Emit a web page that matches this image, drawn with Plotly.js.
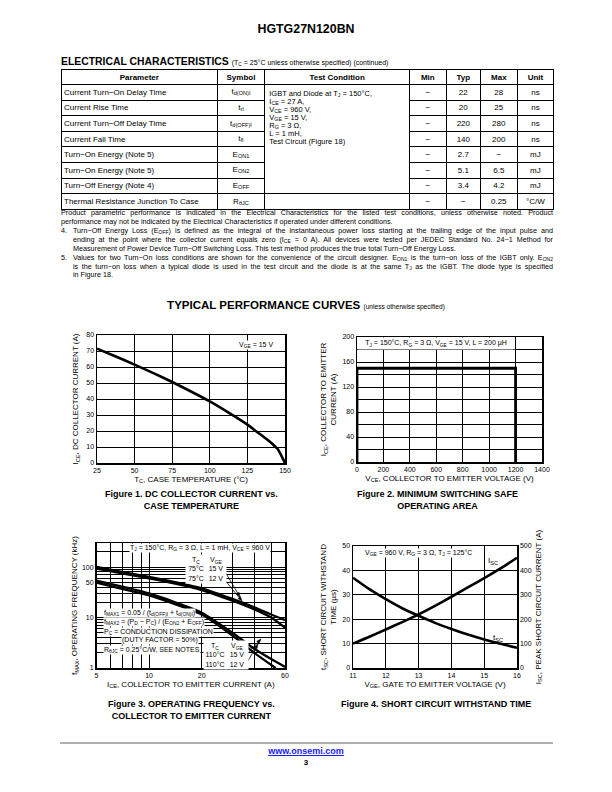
<!DOCTYPE html>
<html>
<head>
<meta charset="utf-8">
<script src="https://cdn.plot.ly/plotly-3.0.1.min.js"></script>
<style>
html,body{margin:0;padding:0;background:#fff;}
body{width:612px;height:792px;overflow:hidden;position:relative;font-family:"Liberation Sans",Arial,Helvetica,sans-serif;color:#000;}
#plot{position:absolute;left:0;top:0;width:612px;height:792px;z-index:0;}
.ov{position:absolute;z-index:2;white-space:nowrap;}
#hdr{left:0;width:612px;top:22px;line-height:14px;text-align:center;font-weight:bold;font-size:12.4px;}
#ect{left:61px;top:56px;line-height:12px;font-size:10.4px;font-weight:bold;}
#ect span{font-weight:normal;font-size:7px;}
sub{font-size:70%;vertical-align:-0.2em;line-height:1;}
#tbl{position:absolute;z-index:2;left:61px;top:69px;border-collapse:collapse;table-layout:fixed;font-size:8px;}
#tbl td,#tbl th{border:1px solid #000;padding:0 2px;line-height:9px;white-space:nowrap;overflow:hidden;}
#tbl th{font-weight:bold;text-align:center;}
#tbl tr{height:15.6px;}
#tbl tr.h{height:15px;}
#tbl td.c{text-align:center;}
#tbl td.p{text-align:left;padding-left:2px;}
#tbl td.cond{vertical-align:top;padding:5.4px 4px 0 4px;font-size:7.5px;overflow:visible;}
#tbl td.cond div{height:8px;line-height:8px;overflow:visible;white-space:nowrap;}
#tbl td.cond sub{line-height:0;vertical-align:-0.12em;}
.nl{position:absolute;z-index:2;font-size:7.2px;line-height:8.9px;white-space:nowrap;}
.j{text-align:justify;text-align-last:justify;}
#heading{left:0;width:612px;top:298px;line-height:14px;text-align:center;font-size:11.5px;font-weight:bold;}
#heading span{font-weight:normal;font-size:6.6px;}
#fline{position:absolute;z-index:2;left:60px;width:493px;top:742px;height:2px;background:#b0b0b0;}
#link{left:0;width:612px;top:746px;line-height:11px;text-align:center;font-size:9px;font-weight:bold;}
#link a{color:#1a1aff;text-decoration:underline;}
#pg{left:0;width:612px;top:757px;line-height:11px;text-align:center;font-size:8px;font-weight:bold;}
</style>
</head>
<body>
<div id="plot"></div>
<div class="ov" id="hdr">HGTG27N120BN</div>
<div class="ov" id="ect">ELECTRICAL CHARACTERISTICS <span>(T<sub>C</sub> = 25°C unless otherwise specified) (continued)</span></div>
<table id="tbl"></table>
<div class="nl j" style="left:61px;top:209px;width:492px;">Product parametric performance is indicated in the Electrical Characteristics for the listed test conditions, unless otherwise noted. Product</div>
<div class="nl" style="left:61px;top:218px;">performance may not be indicated by the Electrical Characteristics if operated under different conditions.</div>
<div class="nl" style="left:61px;top:227px;">4.</div>
<div class="nl j" style="left:73px;top:227px;width:480px;">Turn−Off Energy Loss (E<sub>OFF</sub>) is defined as the integral of the instantaneous power loss starting at the trailing edge of the input pulse and</div>
<div class="nl j" style="left:73px;top:236px;width:480px;">ending at the point where the collector current equals zero (I<sub>CE</sub> = 0 A). All devices were tested per JEDEC Standard No. 24−1 Method for</div>
<div class="nl" style="left:73px;top:245px;">Measurement of Power Device Turn−Off Switching Loss. This test method produces the true total Turn−Off Energy Loss.</div>
<div class="nl" style="left:61px;top:254px;">5.</div>
<div class="nl j" style="left:73px;top:254px;width:480px;">Values for two Turn−On loss conditions are shown for the convenience of the circuit designer. E<sub>ON1</sub> is the turn−on loss of the IGBT only. E<sub>ON2</sub></div>
<div class="nl j" style="left:73px;top:262.5px;width:480px;">is the turn−on loss when a typical diode is used in the test circuit and the diode is at the same T<sub>J</sub> as the IGBT. The diode type is specified</div>
<div class="nl" style="left:73px;top:271px;">in Figure 18.</div>
<div class="ov" id="heading">TYPICAL PERFORMANCE CURVES <span>(unless otherwise specified)</span></div>
<div id="fline"></div>
<div class="ov" id="link"><a href="http://www.onsemi.com">www.onsemi.com</a></div>
<div class="ov" id="pg">3</div>
<script>
// ---------------- Table data ----------------
const tHeaders = ["Parameter","Symbol","Test Condition","Min","Typ","Max","Unit"];
const tParams = ["Current Turn−On Delay Time","Current Rise Time","Current Turn−Off Delay Time","Current Fall Time","Turn−On Energy (Note 5)","Turn−On Energy (Note 5)","Turn−Off Energy (Note 4)","Thermal Resistance Junction To Case"];
const tSymbols = ["t<sub>d(ON)I</sub>","t<sub>rI</sub>","t<sub>d(OFF)I</sub>","t<sub>fI</sub>","E<sub>ON1</sub>","E<sub>ON2</sub>","E<sub>OFF</sub>","R<sub>θJC</sub>"];
const tCondition = ["IGBT and Diode at T<sub>J</sub> = 150°C,","I<sub>CE</sub> = 27 A,","V<sub>CE</sub> = 960 V,","V<sub>GE</sub> = 15 V,","R<sub>G</sub> = 3 Ω,","L = 1 mH,","Test Circuit (Figure 18)"];
const tMin = ["−","−","−","−","−","−","−","−"];
const tTyp = ["22","20","220","140","2.7","5.1","3.4","−"];
const tMax = ["28","25","280","200","−","6.5","4.2","0.25"];
const tUnit = ["ns","ns","ns","ns","mJ","mJ","mJ","°C/W"];

// ---------------- Figure 1 ----------------
const f1Temp = [25, 37.5, 50, 62.5, 75, 87.5, 100, 112.5, 125, 131, 137.5, 141.5, 145, 147.5, 150];
const f1Ice  = [71.5, 66.6, 61.5, 56.2, 50.6, 44.7, 38.5, 31.5, 24, 19.7, 15.1, 12, 8.9, 4.8, 0];
const f1XTicks = [25, 50, 75, 100, 125, 150];
const f1YTicks = [0, 10, 20, 30, 40, 50, 60, 70, 80];

// ---------------- Figure 2 ----------------
const f2Vce = [0, 0, 1200, 1200];
const f2Ice = [0, 150, 150, 0];
const f2XTicks = [0, 200, 400, 600, 800, 1000, 1200, 1400];
const f2YTicks = [0, 40, 80, 120, 160, 200];
const f2YMinor = 20;

// ---------------- Figure 3 ----------------
const f3Ice   = [5, 7, 10, 15, 20, 30, 40, 50, 60];
const f3IceB  = [5, 7, 10, 15, 20, 30, 40, 50, 53];
const f3_75C_15V  = [101, 80, 64, 48, 38, 23.5, 16, 11.5, 8.9];
const f3_75C_12V  = [93, 75, 60, 45, 35, 21.5, 14.5, 10, 6.3];
const f3_110C_15V = [54, 41, 30, 18.5, 12.5, 5, 2.4, 1.5, 1.05];
const f3_110C_12V = [49, 37, 27.5, 17, 11.5, 4.4, 2.0, 1.15, 1.0];
const f3XTicks = [5, 10, 20, 60];
const f3XMinor = [6, 7, 8, 9, 30, 40, 50];
const f3YTicks = [1, 10, 50, 100];
const f3YMinor = [2, 3, 4, 5, 6, 7, 8, 9, 20, 30, 40, 60, 70, 80, 90, 200];
const f3LegTc75  = ["T<sub>C</sub>", "75°C", "75°C"];
const f3LegVge75 = ["V<sub>GE</sub>", "15 V", "12 V"];
const f3LegTc110  = ["T<sub>C</sub>", "110°C", "110°C"];
const f3LegVge110 = ["V<sub>GE</sub>", "15 V", "12 V"];

// ---------------- Figure 4 ----------------
const f4Vge = [11, 11.5, 12, 12.5, 13, 13.5, 14, 14.5, 15, 15.5, 16];
const f4Tsc = [37, 32.3, 28.2, 24.5, 21.4, 18.5, 16, 13.7, 11.7, 9.9, 8.3];
const f4Isc = [100, 128, 158, 188, 220, 255, 292, 330, 368, 408, 452];
const f4XTicks = [11, 12, 13, 14, 15, 16];
const f4YTicks = [0, 10, 20, 30, 40, 50];
const f4Y2Ticks = [0, 100, 200, 300, 400, 500];

// ---------------- Build table ----------------
(function(){
  const colW = [155.7, 47.6, 144.7, 36.7, 34.3, 36.7, 36.6];
  let h = '<colgroup>' + colW.map(w => '<col style="width:' + w + 'px">').join('') + '</colgroup>';
  h += '<tr class="h">' + tHeaders.map(t => '<th>' + t + '</th>').join('') + '</tr>';
  for (let i = 0; i < tParams.length; i++) {
    h += '<tr><td class="p">' + tParams[i] + '</td><td class="c">' + tSymbols[i] + '</td>';
    if (i === 0) h += '<td class="cond" rowspan="7">' + tCondition.map(s => '<div>' + s + '</div>').join('') + '</td>';
    if (i === 7) h += '<td></td>';
    h += '<td class="c">' + tMin[i] + '</td><td class="c">' + tTyp[i] + '</td><td class="c">' + tMax[i] + '</td><td class="c">' + tUnit[i] + '</td></tr>';
  }
  document.getElementById('tbl').innerHTML = h;
})();

// ---------------- Plot ----------------
const BLK = '#000';
const X = p => p / 612;
const Y = p => 1 - p / 792;
const FONT = 'Liberation Sans, Arial, Helvetica, sans-serif';
const GRID = {showgrid: true, gridcolor: BLK, gridwidth: 1, ticks: ''};
const ax = (o) => Object.assign({
  showgrid: true, gridcolor: BLK, gridwidth: 1, showline: true, mirror: true,
  linecolor: BLK, linewidth: 1.5, ticks: '', zeroline: false,
  tickfont: {size: 7, color: BLK, family: FONT}, fixedrange: true
}, o);
const sp = {color: BLK, width: 2.6, shape: 'spline', smoothing: 0.6};
const sp3 = {color: BLK, width: 2.3, shape: 'spline', smoothing: 0.6};

const traces = [
  {x: f1Temp, y: f1Ice, xaxis: 'x', yaxis: 'y', mode: 'lines', line: sp},
  {x: f2Vce, y: f2Ice, xaxis: 'x2', yaxis: 'y2', mode: 'lines', line: {color: BLK, width: 2.8}},
  {x: f3Ice, y: f3_75C_15V, xaxis: 'x3', yaxis: 'y3', mode: 'lines', line: sp3},
  {x: f3Ice, y: f3_75C_12V, xaxis: 'x3', yaxis: 'y3', mode: 'lines', line: sp3},
  {x: f3Ice, y: f3_110C_15V, xaxis: 'x3', yaxis: 'y3', mode: 'lines', line: sp3},
  {x: f3IceB, y: f3_110C_12V, xaxis: 'x3', yaxis: 'y3', mode: 'lines', line: sp3},
  {x: f4Vge, y: f4Tsc, xaxis: 'x4', yaxis: 'y4', mode: 'lines', line: sp},
  {x: f4Vge, y: f4Isc, xaxis: 'x4', yaxis: 'y5', mode: 'lines', line: sp}
];

const A = (x, y, text, o) => Object.assign({
  xref: 'paper', yref: 'paper', x: X(x), y: Y(y), text: text, showarrow: false,
  font: {size: 7, color: BLK, family: FONT}, xanchor: 'center', yanchor: 'middle', borderpad: 0
}, o || {});
const W = {bgcolor: '#fff'};
const cap = {size: 9, color: BLK, family: FONT};
const col = (x, y, lines, w) => A(x, y, lines.join('<br>'), {bgcolor: '#fff', width: w, height: 28, align: 'center'});

const annotations = [
  // Figure 1
  A(256, 345, 'V<sub>GE</sub> = 15 V', W),
  // Figure 2
  A(436, 343.5, 'T<sub>J</sub> = 150°C, R<sub>G</sub> = 3 Ω, V<sub>GE</sub> = 15 V, L = 200 µH', {bgcolor: '#fff', width: 156, height: 11}),
  // Figure 3
  A(200, 548, 'T<sub>J</sub> = 150°C, R<sub>G</sub> = 3 Ω, L = 1 mH, V<sub>CE</sub> = 960 V', W),
  col(196, 568.5, f3LegTc75, 20), col(216, 568.5, f3LegVge75, 20),
  A(103, 612.7, 'f<sub>MAX1</sub> = 0.05 / (t<sub>d(OFF)I</sub> + t<sub>d(ON)I</sub>)', {xanchor: 'left', bgcolor: '#fff'}),
  A(103, 622.3, 'f<sub>MAX2</sub> = (P<sub>D</sub> − P<sub>C</sub>) / (E<sub>ON2</sub> + E<sub>OFF</sub>)', {xanchor: 'left', bgcolor: '#fff'}),
  A(103, 631.7, 'P<sub>C</sub> = CONDUCTION DISSIPATION', {xanchor: 'left', bgcolor: '#fff'}),
  A(160, 640.3, '(DUTY FACTOR = 50%)', {bgcolor: '#fff'}),
  A(103, 649.5, 'R<sub>θJC</sub> = 0.25°C/W, SEE NOTES', {xanchor: 'left', bgcolor: '#fff'}),
  col(215, 655, f3LegTc110, 22), col(237, 655, f3LegVge110, 22),
  // Figure 4
  A(418, 552.5, 'V<sub>GE</sub> = 960 V, R<sub>G</sub> = 3 Ω, T<sub>J</sub> = 125°C', W),
  A(493, 561, 'I<sub>SC</sub>', {font: {size: 8, color: BLK, family: FONT}}),
  A(498, 638, 't<sub>SC</sub>', {font: {size: 8, color: BLK, family: FONT}}),
  // Captions
  A(191, 500, '<b>Figure 1. DC COLLECTOR CURRENT vs.</b><br><b>CASE TEMPERATURE</b>', {font: cap}),
  A(437, 500, '<b>Figure 2. MINIMUM SWITCHING SAFE</b><br><b>OPERATING AREA</b>', {font: cap}),
  A(191, 710, '<b>Figure 3. OPERATING FREQUENCY vs.</b><br><b>COLLECTOR TO EMITTER CURRENT</b>', {font: cap}),
  A(436, 704, '<b>Figure 4. SHORT CIRCUIT WITHSTAND TIME</b>', {font: cap})
];

const ul = (x0, x1, y) => ({type: 'line', xref: 'paper', yref: 'paper', x0: X(x0), x1: X(x1), y0: Y(y), y1: Y(y), line: {color: BLK, width: 0.8}, layer: 'above'});
const arrow = (tx, ty, hx, hy) => {
  const dx = hx - tx, dy = hy - ty, L = Math.hypot(dx, dy), ux = dx / L, uy = dy / L;
  const bx = hx - 4.5 * ux, by = hy - 4.5 * uy, nx = -uy * 1.6, ny = ux * 1.6;
  return [
    {type: 'line', xref: 'paper', yref: 'paper', x0: X(tx), y0: Y(ty), x1: X(bx), y1: Y(by), line: {color: BLK, width: 0.8}, layer: 'above'},
    {type: 'path', xref: 'paper', yref: 'paper', path: 'M' + X(hx) + ',' + Y(hy) + ' L' + X(bx + nx) + ',' + Y(by + ny) + ' L' + X(bx - nx) + ',' + Y(by - ny) + ' Z', fillcolor: BLK, line: {color: BLK, width: 0.5}, layer: 'above'}
  ];
};
const shapes = [
  ul(188, 204, 563.5), ul(207, 225, 563.5), ul(206, 224, 650.5), ul(228, 246, 650.5)
].concat(arrow(224, 570, 240, 597), arrow(224, 579, 242, 601), arrow(246, 655, 261, 639), arrow(246, 664, 258, 644));

const tt = (t, s) => ({text: t, font: {size: 8, color: BLK, family: FONT}, standoff: s});

const layout = {
  width: 612, height: 792, margin: {l: 0, r: 0, t: 0, b: 0, pad: 0},
  paper_bgcolor: 'rgba(0,0,0,0)', plot_bgcolor: '#fff', showlegend: false,
  font: {family: FONT, color: BLK, size: 7},
  xaxis: ax({domain: [X(97), X(285)], range: [25, 150], tickvals: f1XTicks, anchor: 'y', title: tt('T<sub>C</sub>, CASE TEMPERATURE (°C)', 3)}),
  yaxis: ax({domain: [Y(463), Y(335)], range: [0, 80], tickvals: f1YTicks, anchor: 'x', title: tt('I<sub>CE</sub>, DC COLLECTOR CURRENT (A)', 6)}),
  xaxis2: ax({domain: [X(357), X(542)], range: [0, 1400], tickvals: f2XTicks, anchor: 'y2', title: tt('V<sub>CE</sub>, COLLECTOR TO EMITTER VOLTAGE (V)', 3)}),
  yaxis2: ax({domain: [Y(462), Y(337)], range: [0, 200], tickvals: f2YTicks, minor: Object.assign({dtick: f2YMinor}, GRID), anchor: 'x2', title: tt('I<sub>CE</sub>, COLLECTOR TO EMITTER<br>CURRENT (A)', 4)}),
  xaxis3: ax({type: 'log', domain: [X(96.5), X(285)], range: [Math.log10(5), Math.log10(60)], tickvals: f3XTicks, minor: Object.assign({tickvals: f3XMinor}, GRID), anchor: 'y3', title: tt('I<sub>CE</sub>, COLLECTOR TO EMITTER CURRENT (A)', 3)}),
  yaxis3: ax({type: 'log', domain: [Y(668), Y(543)], range: [0, Math.log10(300)], tickvals: f3YTicks, minor: Object.assign({tickvals: f3YMinor}, GRID), anchor: 'x3', title: tt('f<sub>MAX</sub>, OPERATING FREQUENCY (kHz)', 3)}),
  xaxis4: ax({domain: [X(353), X(517)], range: [11, 16], tickvals: f4XTicks, anchor: 'y4', title: tt('V<sub>GE</sub>, GATE TO EMITTER VOLTAGE (V)', 3)}),
  yaxis4: ax({domain: [Y(668), Y(546)], range: [0, 50], tickvals: f4YTicks, anchor: 'x4', title: tt('t<sub>SC</sub>, SHORT CIRCUIT WITHSTAND<br>TIME (µs)', 4)}),
  yaxis5: ax({overlaying: 'y4', side: 'right', anchor: 'x4', range: [0, 500], tickvals: f4Y2Ticks, showgrid: false, mirror: false, title: tt('I<sub>SC</sub>, PEAK SHORT CIRCUIT CURRENT (A)', 4)}),
  annotations: annotations,
  shapes: shapes
};

Plotly.newPlot('plot', traces, layout, {staticPlot: true, displayModeBar: false});
</script>
</body>
</html>
